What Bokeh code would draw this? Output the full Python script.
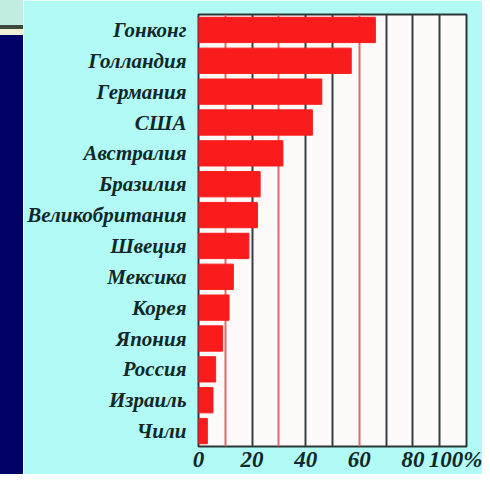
from bokeh.plotting import figure
from bokeh.models import FixedTicker, Grid, Range1d, FactorRange, Div
from bokeh.layouts import row
from bokeh.embed import file_html
from bokeh.resources import INLINE

countries = ["Гонконг", "Голландия", "Германия", "США", "Австралия", "Бразилия",
             "Великобритания", "Швеция", "Мексика", "Корея", "Япония", "Россия",
             "Израиль", "Чили"]
values = [66, 57, 46, 42.5, 31.5, 23, 22, 18.8, 13, 11.4, 9, 6.4, 5.4, 3.3]
x_ticks = [0, 20, 40, 60, 80, 100]
tick_labels = {100: "100%"}
grid_dark = [20, 40, 50, 70, 80, 90]
grid_red = [10, 30, 60]

BG = "#b2faf6"

# decorative slide strip on the left
strip = Div(width=23, height=474, text="",
            styles={"background": "linear-gradient(to bottom, #c2ece0 0px, #c2ece0 25px, "
                                  "#3e4a3c 25px, #3e4a3c 29px, #f2f0d4 29px, #f2f0d4 35px, "
                                  "#000066 35px, #000066 100%)",
                    "margin": "0", "padding": "0"})

p = figure(width=459, height=474, output_backend="svg", toolbar_location=None,
           y_range=FactorRange(*reversed(countries), range_padding=0),
           x_range=Range1d(0, 100),
           min_border_left=175, min_border_right=16, min_border_top=14, min_border_bottom=20)
p.background_fill_color = "#fffafa"
p.border_fill_color = BG
p.outline_line_color = "#2a3636"
p.outline_line_width = 2

p.xgrid.ticker = FixedTicker(ticks=grid_dark)
p.xgrid.grid_line_color = "#334040"
p.xgrid.grid_line_width = 2
p.add_layout(Grid(dimension=0, ticker=FixedTicker(ticks=grid_red),
                  grid_line_color="#dc6a6a", grid_line_width=2))
p.ygrid.grid_line_color = None

p.hbar(y=countries, right=values, left=0, height=0.82, color="#fa1c1c")

p.xaxis.ticker = FixedTicker(ticks=x_ticks)
p.xaxis.major_label_overrides = tick_labels
for ax in (p.xaxis[0], p.yaxis[0]):
    ax.axis_line_color = None
    ax.major_tick_line_color = None
    ax.minor_tick_line_color = None
    ax.major_tick_out = 0
    ax.major_tick_in = 0
    ax.minor_tick_out = 0
    ax.minor_tick_in = 0
    ax.major_label_text_font = "Liberation Serif"
    ax.major_label_text_font_style = "bold italic"
    ax.major_label_text_color = "#102828"
p.xaxis.major_label_text_font_size = "23px"
p.xaxis.major_label_text_line_height = 0.9
p.xaxis.major_label_standoff = 0
p.yaxis.major_label_text_font_size = "21px"
p.yaxis.major_label_standoff = 12

open("out.html", "w").write(file_html(row(strip, p, spacing=0), INLINE))
